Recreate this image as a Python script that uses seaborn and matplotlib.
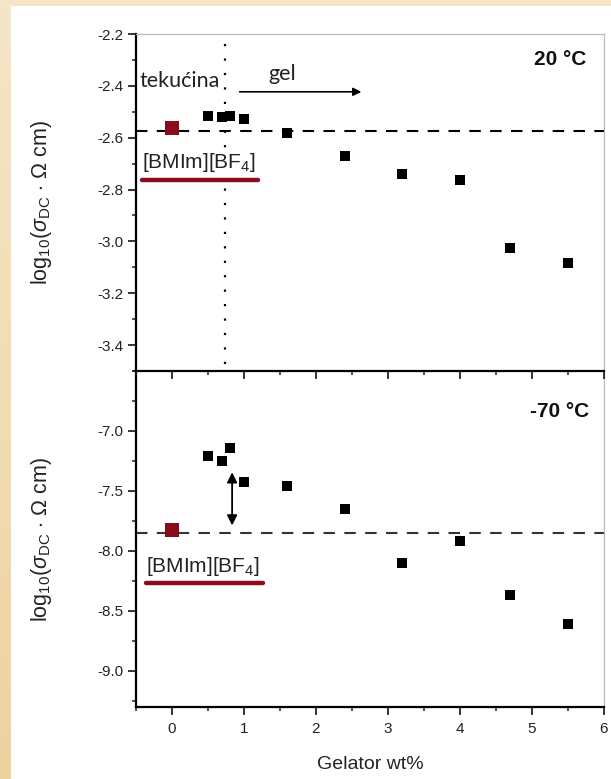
import numpy as np
import pandas as pd
import seaborn as sns
import matplotlib.pyplot as plt
from matplotlib.ticker import MultipleLocator, FixedLocator

# values
wt = [0.5, 0.7, 0.8, 1.0, 1.6, 2.4, 3.2, 4.0, 4.7, 5.5]
log_s_20 = [-2.518, -2.519, -2.515, -2.528, -2.582, -2.671, -2.741, -2.762, -3.027, -3.082]
log_s_m70 = [-7.205, -7.247, -7.144, -7.427, -7.460, -7.648, -8.100, -7.914, -8.368, -8.606]
il_wt = [0.0]
il_20 = [-2.564]
il_m70 = [-7.828]
ref_20 = -2.574
ref_m70 = -7.850
sol_gel_wt = 0.73
yticks_20 = [-2.2, -2.4, -2.6, -2.8, -3.0, -3.2, -3.4]
yticks_m70 = [-7.0, -7.5, -8.0, -8.5, -9.0]

df = pd.DataFrame({"wt": wt, "20": log_s_20, "-70": log_s_m70})
df_il = pd.DataFrame({"wt": il_wt, "20": il_20, "-70": il_m70})

sns.set_theme(style="ticks")
plt.rcParams["font.family"] = ["Liberation Sans", "DejaVu Sans"]
plt.rcParams["axes.unicode_minus"] = False
plt.rcParams["mathtext.fontset"] = "custom"
plt.rcParams["mathtext.rm"] = "Liberation Sans"
plt.rcParams["mathtext.it"] = "Liberation Sans:italic"
plt.rcParams["mathtext.bf"] = "Liberation Sans:bold"

red = "#8A0B1C"
W, H = 611, 779
fig = plt.figure(figsize=(W / 100, H / 100), dpi=100, facecolor="white")

# cream frame on top and left
band = fig.add_axes([0, 0, 11 / W, 1])
grad = np.linspace(0, 1, 100).reshape(-1, 1)
band.imshow(grad, aspect="auto", cmap=sns.blend_palette(["#EED39F", "#F5E6C8"], as_cmap=True),
            extent=[0, 1, 0, 1], origin="lower")
band.axis("off")
top_band = fig.add_axes([0, 1 - 6 / H, 1, 6 / H])
top_band.set_facecolor("#F4E5C6")
top_band.set_xticks([])
top_band.set_yticks([])
for s in top_band.spines.values():
    s.set_visible(False)

left, right = 136 / W, 604 / W
ax2 = fig.add_axes([left, 1 - 707 / H, right - left, (707 - 371) / H])
ax1 = fig.add_axes([left, 1 - 371 / H, right - left, (371 - 34) / H])
ax2.patch.set_visible(False)
ax1.set_zorder(3)
ax1.patch.set_visible(False)

ylabel = r"log$_{10}$($\sigma_{\mathrm{DC}}$ $\cdot$ $\Omega$ cm)"

for ax, col, ref, ylim, majors, minor in [
    (ax1, "20", ref_20, (-3.5, -2.2), yticks_20, 0.1),
    (ax2, "-70", ref_m70, (-9.3, -6.5), yticks_m70, 0.25),
]:
    ax.axhline(ref, color="black" if ax is ax1 else "#333333", lw=1.5,
               dashes=(5.5, 4.5), zorder=2)
    sns.scatterplot(data=df, x="wt", y=col, ax=ax, marker="s", s=48,
                    color="black", linewidth=0, zorder=4)
    sns.scatterplot(data=df_il, x="wt", y=col, ax=ax, marker="s", s=95,
                    color=red, linewidth=0, zorder=4)
    ax.set_xlim(-0.5, 6)
    ax.set_ylim(*ylim)
    ax.xaxis.set_major_locator(MultipleLocator(1))
    ax.xaxis.set_minor_locator(MultipleLocator(0.5))
    ax.yaxis.set_major_locator(FixedLocator(majors))
    ax.yaxis.set_minor_locator(MultipleLocator(minor))
    ax.tick_params(which="major", direction="out", length=5.5, width=1.1,
                   labelsize=11, colors="black", labelcolor="#222222", pad=3.5)
    ax.tick_params(which="minor", direction="out", length=3.2, width=1.1)
    ax.tick_params(axis="x", top=False, pad=5)
    ax.tick_params(axis="y", right=False)
    ax.set_ylabel(ylabel, fontsize=15.5, color="#222222")
    ax.yaxis.set_label_coords(-0.175, 0.5)
    for side in ["top", "right"]:
        ax.spines[side].set_color("#BBBBBB")
        ax.spines[side].set_linewidth(0.9)
    for side in ["left", "bottom"]:
        ax.spines[side].set_color("black")
        ax.spines[side].set_linewidth(1.6)

ax1.set_xlabel("")
ax1.tick_params(axis="x", labelbottom=False)
ax2.spines["top"].set_visible(False)
ax2.set_xlabel("Gelator wt%", fontsize=14, color="#222222")
ax2.xaxis.set_label_coords(0.5, -0.145)

# top panel annotations
ax1.axvline(sol_gel_wt, ymin=0.02, ymax=1, color="black", lw=1.6,
            dashes=(1, 5.5), zorder=1)
ax1.text(-0.45, -2.404, "tekućina", family=["Lato", "DejaVu Sans"], fontsize=15.5,
         color="#222222", ha="left", va="baseline")
ax1.text(1.53, -2.378, "gel", family=["Lato", "DejaVu Sans"], fontsize=15.5,
         color="#222222", ha="center", va="baseline")
ax1.annotate("", xy=(2.63, -2.423), xytext=(0.94, -2.423),
             arrowprops=dict(arrowstyle="-|>", color="black", lw=1.2,
                             mutation_scale=12, shrinkA=0, shrinkB=0))
ax1.text(5.76, -2.30, "20 °C", fontsize=15, fontweight="bold", ha="right",
         va="center", color="#111111")
ax1.text(-0.42, -2.718, r"[BMIm][BF$_4$]", fontsize=15, color="#222222",
         ha="left", va="baseline", zorder=3,
         bbox=dict(facecolor="white", edgecolor="none", pad=2))
ax1.plot([-0.42, 1.2], [-2.763, -2.763], color=red, lw=3.2,
         solid_capstyle="round", zorder=5)

# bottom panel annotations
ax2.annotate("", xy=(0.835, -7.344), xytext=(0.835, -7.787),
             arrowprops=dict(arrowstyle="<|-|>", color="black", lw=1.3,
                             mutation_scale=15, shrinkA=0, shrinkB=0))
ax2.text(5.79, -6.84, "-70 °C", fontsize=15, fontweight="bold", ha="right",
         va="center", color="#111111")
ax2.text(-0.36, -8.177, r"[BMIm][BF$_4$]", fontsize=15, color="#222222",
         ha="left", va="baseline", zorder=3)
ax2.plot([-0.36, 1.27], [-8.263, -8.263], color=red, lw=3.2,
         solid_capstyle="round", zorder=5)

fig.savefig("out.png", dpi=100, facecolor="white")
